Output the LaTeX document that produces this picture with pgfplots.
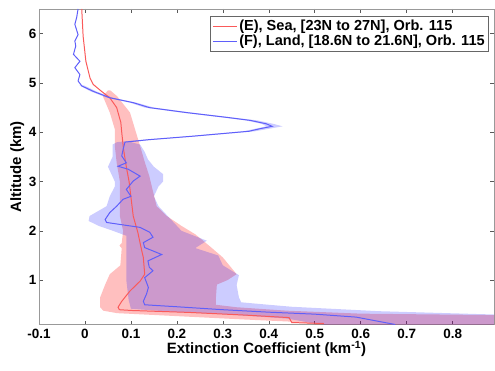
\documentclass[border=0pt]{standalone}
\usepackage{pgfplots}
\pgfplotsset{compat=1.18}
\usepackage{fontspec}
\setmainfont{Liberation Sans}
\definecolor{lred}{RGB}{250,90,90}
\definecolor{lblue}{RGB}{95,95,250}
\begin{document}
\begin{tikzpicture}[x=1bp,y=1bp]
\begin{axis}[name=ax,
  scale only axis, width=455bp, height=315.5bp,
  xmin=-0.1, xmax=0.89, ymin=0.1, ymax=6.5,
  xtick={-0.1,0,0.1,0.2,0.3,0.4,0.5,0.6,0.7,0.8},
  xticklabels={-0.1,0,0.1,0.2,0.3,0.4,0.5,0.6,0.7,0.8},
  ytick={1,2,3,4,5,6},
  tick align=inside, major tick length=4bp,
  tick style={gray!70!black, line width=0.6pt},
  axis line style={gray!80, line width=1pt},
  /pgf/number format/assume math mode=true,
  tick label style={font=\fontsize{13.5}{14}\selectfont\bfseries, black},
  xticklabel style={yshift=-1bp},
  yticklabel style={xshift=1bp},
  xlabel={Extinction Coefficient (km\textsuperscript{-1})},
  ylabel={Altitude (km)},
  label style={font=\fontsize{15}{16}\selectfont\bfseries},
  xlabel style={yshift=4bp},
  ylabel style={yshift=-2bp},
  legend cell align=left,
  legend style={at={(1,1)}, anchor=north east, xshift=-5bp, yshift=-7bp,
    font=\fontsize{14.6}{16.5}\selectfont\bfseries, draw=gray!80!black, line width=0.6pt,
    inner sep=2bp, row sep=-1bp},
  legend image post style={line width=1pt},
  legend image code/.code={\draw[#1] (0bp,0bp) -- (24bp,0bp);},
]
% red band (E)
\addplot[fill=red, fill opacity=0.25, draw=none, forget plot] coordinates {
(0.05,4.85)(0.039,4.73)(0.054,4.4)(0.065,4.06)(0.065,3.72)(0.069,3.38)(0.076,3.0)(0.076,2.3)(0.083,2.0)(0.08,1.75)(0.075,1.7)(0.08,1.65)(0.077,1.3)(0.054,1.12)(0.044,0.91)(0.033,0.65)(0.033,0.45)(0.04,0.38)(0.07,0.33)(0.2,0.27)(0.35,0.2)(0.444,0.16)(0.5,0.1)(0.9,0.1)(0.9,0.29)(0.6,0.32)(0.44,0.38)(0.33,0.45)(0.285,0.5)(0.285,0.65)(0.287,0.91)(0.31,1.0)(0.33,1.12)(0.30,1.46)(0.27,1.7)(0.24,1.93)(0.21,2.1)(0.178,2.3)(0.156,2.5)(0.148,2.8)(0.14,3.11)(0.13,3.4)(0.12,3.72)(0.109,4.06)(0.098,4.4)(0.07,4.73)(0.055,4.85)} --cycle;
% blue band (F)
\addplot[fill=blue, fill opacity=0.2, draw=none, forget plot] coordinates {
(-0.012,4.95)(0.012,4.83)(0.048,4.7)(0.098,4.6)(0.13,4.5)(0.21,4.4)(0.30,4.3)(0.35,4.24)(0.385,4.17)(0.395,4.12)(0.37,4.07)(0.345,4.02)(0.225,3.92)(0.13,3.85)(0.07,3.8)(0.06,3.75)(0.06,3.5)(0.05,3.3)(0.065,3.0)(0.065,2.9)(0.054,2.7)(0.047,2.5)(0.01,2.3)(0.008,2.2)(0.03,2.1)(0.061,2.0)(0.09,1.9)(0.09,1.0)(0.095,0.6)(0.1,0.42)(0.2,0.35)(0.3,0.31)(0.44,0.22)(0.5,0.12)(0.52,0.1)(0.9,0.1)(0.9,0.3)(0.64,0.37)(0.45,0.46)(0.40,0.5)(0.34,0.55)(0.335,0.65)(0.33,0.9)(0.335,1.1)(0.3,1.3)(0.29,1.5)(0.24,1.65)(0.265,1.8)(0.21,2.0)(0.2,2.1)(0.18,2.3)(0.16,2.5)(0.15,2.7)(0.16,2.9)(0.17,3.0)(0.17,3.15)(0.15,3.3)(0.137,3.45)(0.13,3.6)(0.12,3.75)(0.10,3.8)(0.15,3.85)(0.245,3.92)(0.37,4.02)(0.40,4.07)(0.43,4.12)(0.41,4.17)(0.375,4.24)(0.32,4.3)(0.23,4.4)(0.15,4.5)(0.112,4.6)(0.06,4.7)(0.024,4.83)(-0.002,4.95)} --cycle;
% red line (E)
\addplot[lred, line width=1pt] coordinates {
(-0.007,6.5)(-0.004,5.95)(0.002,5.44)(0.011,5.1)(0.018,4.97)(0.036,4.83)(0.054,4.7)(0.069,4.5)(0.078,4.2)(0.08,4.0)(0.084,3.65)(0.09,3.3)(0.096,3.0)(0.105,2.3)(0.115,1.97)(0.123,1.62)(0.127,1.46)(0.13,1.12)(0.12,0.98)(0.098,0.78)(0.08,0.57)(0.072,0.45)(0.075,0.4)(0.1,0.385)(0.227,0.345)(0.35,0.29)(0.444,0.24)(0.45,0.14)(0.52,0.12)};
\addlegendentry{(E), Sea, [23N to 27N], Orb. 115}
% blue line (F)
\addplot[lblue, line width=1pt] coordinates {
(-0.015,6.5)(-0.018,6.33)(-0.022,6.19)(-0.015,5.98)(-0.022,5.85)(-0.02,5.75)(-0.025,5.58)(-0.011,5.44)(-0.022,5.31)(-0.011,5.17)(-0.015,5.04)(-0.007,4.94)(0.018,4.83)(0.054,4.7)(0.105,4.6)(0.14,4.5)(0.22,4.4)(0.31,4.3)(0.36,4.24)(0.395,4.17)(0.407,4.12)(0.38,4.07)(0.357,4.02)(0.235,3.92)(0.14,3.85)(0.087,3.8)(0.083,3.65)(0.08,3.52)(0.09,3.38)(0.072,3.31)(0.094,3.25)(0.12,3.11)(0.105,3.01)(0.09,2.84)(0.10,2.70)(0.083,2.64)(0.069,2.50)(0.054,2.37)(0.044,2.23)(0.047,2.17)(0.076,2.13)(0.12,2.07)(0.141,1.97)(0.148,1.87)(0.127,1.76)(0.13,1.66)(0.167,1.52)(0.137,1.39)(0.14,1.26)(0.148,1.19)(0.13,1.05)(0.138,0.85)(0.134,0.72)(0.127,0.57)(0.13,0.5)(0.2,0.46)(0.3,0.4)(0.4,0.35)(0.5,0.31)(0.59,0.25)(0.675,0.1)};
\addlegendentry{(F), Land, [18.6N to 21.6N], Orb. 115}
\end{axis}
\pgfresetboundingbox
\path[use as bounding box] ([xshift=-39bp,yshift=-46.5bp]ax.south west) rectangle ([xshift=1bp,yshift=9bp]ax.north east);
\end{tikzpicture}
\end{document}
